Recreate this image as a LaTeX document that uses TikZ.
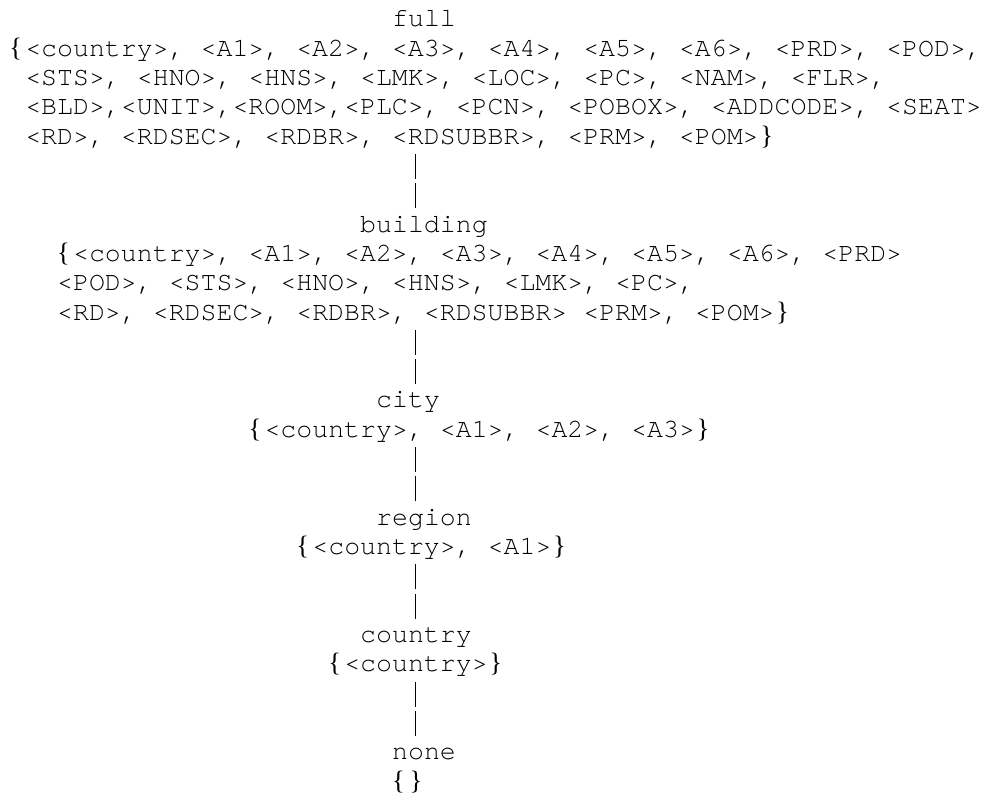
\documentclass[tikz,border=0pt]{standalone}
\usepackage{fontspec}
\newfontfamily\monof{texgyrecursor-regular.otf}
\newfontfamily\bracef{Liberation Serif}
\newcommand\lbr{\makebox[0.6em][l]{\bracef\{}}
\newcommand\rbr{\makebox[0.6em][c]{\bracef\}}}
\newcommand\mrow[1]{\hbox{#1}}
\begin{document}
\begin{tikzpicture}[x=0.75pt,y=-0.75pt,
  lbl/.style={anchor=base west,inner sep=0pt,font=\monof\fontsize{19.93}{22}\selectfont},
  bar/.style={line width=0.9pt,dash pattern=on 18.75pt off 3.25pt}]
\fill[white] (0,0) rectangle (983,794);
\useasboundingbox (0,0) rectangle (983,794);
% names and sets
\node[lbl] (full) at (391.85,26.70) {full};
\node[lbl] (fullset) at (9.05,56.03) {\vtop{%
  \mrow{\lbr<country>, <A1>, <A2>, <A3>, <A4>, <A5>, <A6>, <PRD>, <POD>,}%
  \mrow{\hspace*{0.6em}<STS>, <HNO>, <HNS>, <LMK>, <LOC>, <PC>, <NAM>, <FLR>,}%
  \mrow{\hspace*{0.6em}<BLD>,<UNIT>,<ROOM>,<PLC>, <PCN>, <POBOX>, <ADDCODE>, <SEAT>}%
  \mrow{\hspace*{0.6em}<RD>, <RDSEC>, <RDBR>, <RDSUBBR>, <PRM>, <POM>\rbr}}};
\node[lbl] (building) at (359.95,232.01) {building};
\node[lbl] (buildset) at (56.90,261.34) {\vtop{%
  \mrow{\lbr<country>, <A1>, <A2>, <A3>, <A4>, <A5>, <A6>, <PRD>}%
  \mrow{<POD>, <STS>, <HNO>, <HNS>, <LMK>, <PC>,}%
  \mrow{<RD>, <RDSEC>, <RDBR>, <RDSUBBR> <PRM>, <POM>\rbr}}};
\node[lbl] (city) at (375.90,407.99) {city};
\node[lbl] (cityset) at (248.30,437.32) {\lbr<country>, <A1>, <A2>, <A3>\rbr};
\node[lbl] (region) at (375.90,525.31) {region};
\node[lbl] (regionset) at (296.15,554.64) {\lbr<country>, <A1>\rbr};
\node[lbl] (country) at (359.95,642.63) {country};
\node[lbl] (countryset) at (328.05,671.96) {\lbr<country>\rbr};
\node[lbl] (none) at (391.85,759.95) {none};
\node[lbl] (noneset) at (391.85,789.28) {\lbr\rbr};
% connector end points
\coordinate (c1a) at (415.8,153.85); \coordinate (c1b) at (415.8,208.18);
\coordinate (c2a) at (415.8,329.83); \coordinate (c2b) at (415.8,384.16);
\coordinate (c3a) at (415.8,447.15); \coordinate (c3b) at (415.8,501.48);
\coordinate (c4a) at (415.8,564.47); \coordinate (c4b) at (415.8,618.80);
\coordinate (c5a) at (415.8,681.79); \coordinate (c5b) at (415.8,736.12);
\draw[bar] (c1a) -- (c1b);
\draw[bar] (c2a) -- (c2b);
\draw[bar] (c3a) -- (c3b);
\draw[bar] (c4a) -- (c4b);
\draw[bar] (c5a) -- (c5b);
\end{tikzpicture}
\end{document}
